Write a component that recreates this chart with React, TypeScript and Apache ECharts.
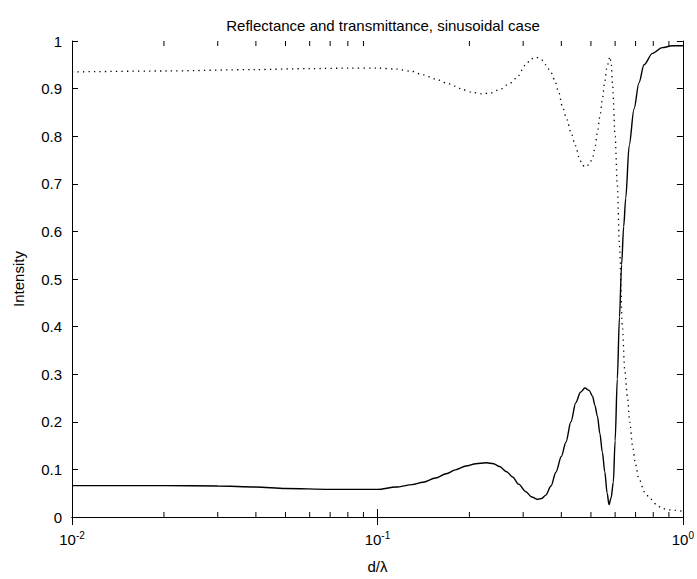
import React, { useEffect, useRef } from "react";
import * as echarts from "echarts";

const titleText = "Reflectance and transmittance, sinusoidal case";
const xName = "d/λ";
const yName = "Intensity";

const reflX = [0.01, 0.02, 0.03, 0.04, 0.05, 0.07, 0.1, 0.115, 0.13, 0.141, 0.155, 0.168, 0.18, 0.195, 0.21, 0.227, 0.24, 0.251, 0.265, 0.277, 0.29, 0.306, 0.32, 0.334, 0.345, 0.356, 0.37, 0.384, 0.4, 0.414, 0.43, 0.446, 0.462, 0.478, 0.493, 0.506, 0.515, 0.525, 0.535, 0.545, 0.555, 0.565, 0.573, 0.582, 0.592, 0.6, 0.61, 0.62, 0.63, 0.64, 0.65, 0.667, 0.692, 0.718, 0.746, 0.795, 0.855, 0.922, 1.0];
const reflY = [0.066, 0.066, 0.065, 0.063, 0.06, 0.058, 0.058, 0.063, 0.068, 0.073, 0.082, 0.091, 0.099, 0.107, 0.112, 0.114, 0.112, 0.106, 0.095, 0.084, 0.069, 0.053, 0.042, 0.037, 0.039, 0.046, 0.065, 0.094, 0.127, 0.157, 0.2, 0.24, 0.262, 0.271, 0.266, 0.254, 0.235, 0.212, 0.175, 0.136, 0.095, 0.05, 0.026, 0.04, 0.073, 0.16, 0.29, 0.42, 0.53, 0.61, 0.67, 0.78, 0.857, 0.912, 0.95, 0.974, 0.986, 0.99, 0.99];

const transX = [0.01, 0.02, 0.04, 0.06, 0.08, 0.1, 0.115, 0.13, 0.141, 0.155, 0.168, 0.18, 0.19, 0.205, 0.22, 0.235, 0.251, 0.27, 0.285, 0.306, 0.318, 0.33, 0.343, 0.356, 0.368, 0.38, 0.392, 0.403, 0.417, 0.43, 0.445, 0.459, 0.468, 0.478, 0.492, 0.506, 0.515, 0.525, 0.535, 0.545, 0.555, 0.565, 0.577, 0.583, 0.588, 0.6, 0.61, 0.62, 0.634, 0.645, 0.658, 0.67, 0.684, 0.7, 0.718, 0.75, 0.78, 0.82, 0.855, 0.9, 0.945, 1.0];
const transY = [0.935, 0.937, 0.94, 0.942, 0.943, 0.943, 0.941, 0.936, 0.929, 0.92, 0.912, 0.905, 0.898, 0.892, 0.889, 0.891, 0.898, 0.91, 0.922, 0.95, 0.962, 0.966, 0.962, 0.95, 0.937, 0.919, 0.893, 0.863, 0.835, 0.808, 0.78, 0.753, 0.74, 0.735, 0.74, 0.753, 0.775, 0.808, 0.842, 0.877, 0.915, 0.947, 0.967, 0.95, 0.912, 0.8, 0.697, 0.57, 0.4, 0.31, 0.254, 0.2, 0.15, 0.11, 0.08, 0.052, 0.039, 0.026, 0.018, 0.015, 0.014, 0.012];

const minorTicks = [0.02, 0.03, 0.04, 0.05, 0.06, 0.07, 0.08, 0.09, 0.2, 0.3, 0.4, 0.5, 0.6, 0.7, 0.8, 0.9];

const FONT = "'Liberation Sans', Arial, Helvetica, sans-serif";

export default function App() {
  const ref = useRef<HTMLDivElement>(null);
  useEffect(() => {
    if (!ref.current) return;
    const chart = echarts.init(ref.current, undefined, { renderer: "svg" });
    const axisLine = { show: true, lineStyle: { color: "#000", width: 1 } };
    chart.setOption({
      animation: false,
      backgroundColor: "#fff",
      textStyle: { fontFamily: FONT },
      title: {
        text: titleText,
        left: 378,
        top: 13,
        textAlign: "center",
        textStyle: { fontFamily: FONT, fontSize: 15, fontWeight: "normal", color: "#000" },
      },
      grid: { left: 72, right: 13, top: 41, bottom: 57, containLabel: false },
      xAxis: [
        {
          type: "log",
          logBase: 10,
          min: 0.01,
          max: 1,
          interval: 1,
          position: "bottom",
          name: xName,
          nameLocation: "middle",
          nameGap: 42,
          nameTextStyle: { fontFamily: FONT, fontSize: 15, color: "#000" },
          axisLine,
          axisTick: { show: true, inside: true, length: 8, lineStyle: { color: "#000" } },
          splitLine: { show: false },
          axisLabel: {
            margin: 13,
            color: "#000",
            formatter: (v: number) => {
              const e = Math.round(Math.log10(v));
              return `{b|10}{s|${e}}`;
            },
            rich: {
              b: { fontFamily: FONT, fontSize: 15, color: "#000" },
              s: { fontFamily: FONT, fontSize: 10, color: "#000", verticalAlign: "top", padding: [0, 0, 8, 0] },
            },
          },
        },
        {
          type: "log",
          logBase: 10,
          min: 0.01,
          max: 1,
          interval: 1,
          position: "top",
          axisLine,
          axisTick: { show: true, inside: true, length: 8, lineStyle: { color: "#000" } },
          axisLabel: { show: false },
          splitLine: { show: false },
        },
      ],
      yAxis: [
        {
          type: "value",
          min: 0,
          max: 1,
          interval: 0.1,
          position: "left",
          name: yName,
          nameLocation: "middle",
          nameGap: 46,
          nameTextStyle: { fontFamily: FONT, fontSize: 15, color: "#000" },
          axisLine,
          axisTick: { show: true, inside: true, length: 6, lineStyle: { color: "#000" } },
          axisLabel: { margin: 10, color: "#000", fontFamily: FONT, fontSize: 15 },
          splitLine: { show: false },
        },
        {
          type: "value",
          min: 0,
          max: 1,
          interval: 0.1,
          position: "right",
          axisLine,
          axisTick: { show: true, inside: true, length: 6, lineStyle: { color: "#000" } },
          axisLabel: { show: false },
          splitLine: { show: false },
        },
      ],
      series: [
        {
          type: "custom",
          xAxisIndex: 0,
          yAxisIndex: 0,
          silent: true,
          clip: false,
          data: minorTicks.map((v) => [v, 0]),
          encode: { x: 0, y: 1 },
          renderItem: (_p: any, api: any) => {
            const x = api.value(0);
            const pb = api.coord([x, 0]);
            const pt = api.coord([x, 1]);
            const st = { stroke: "#000", lineWidth: 1 };
            return {
              type: "group",
              children: [
                { type: "line", shape: { x1: pb[0], y1: pb[1], x2: pb[0], y2: pb[1] - 5 }, style: st },
                { type: "line", shape: { x1: pt[0], y1: pt[1], x2: pt[0], y2: pt[1] + 5 }, style: st },
              ],
            };
          },
        },
        {
          name: "Reflectance",
          type: "line",
          data: reflX.map((x, i) => [x, reflY[i]]),
          showSymbol: false,
          smooth: 0.3,
          smoothMonotone: "x",
          lineStyle: { color: "#000", width: 1.4, type: "solid" },
        },
        {
          name: "Transmittance",
          type: "line",
          data: transX.map((x, i) => [x, transY[i]]),
          showSymbol: false,
          smooth: 0.3,
          smoothMonotone: "x",
          lineStyle: { color: "#000", width: 1.3, type: [1.3, 4.2] },
        },
      ],
    });
    return () => chart.dispose();
  }, []);
  return (
    <div
      ref={ref}
      style={{ position: "absolute", left: 0, top: 0, width: 697, height: 579, background: "#fff" }}
    />
  );
}
